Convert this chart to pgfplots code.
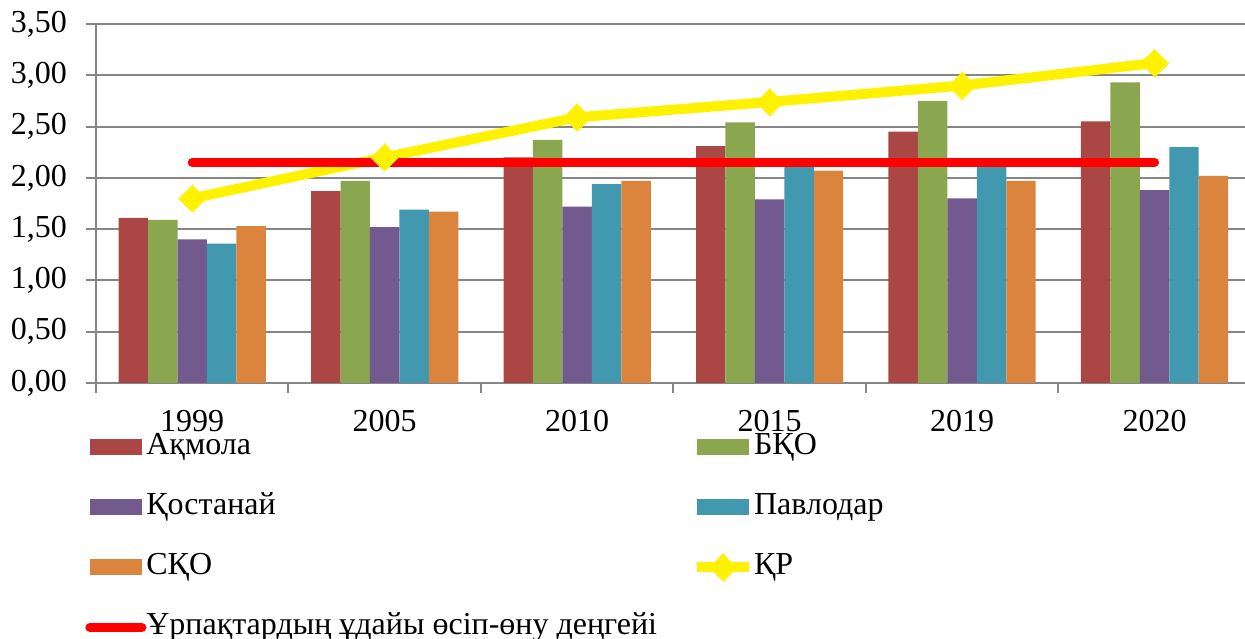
\documentclass[border=0pt]{standalone}
\usepackage{pgfplots}
\pgfplotsset{compat=1.18}
\usepackage{fontspec}
\setmainfont{Liberation Serif}
\definecolor{cA}{HTML}{AA4744}
\definecolor{cB}{HTML}{8AA64E}
\definecolor{cC}{HTML}{725A8F}
\definecolor{cD}{HTML}{4298AF}
\definecolor{cE}{HTML}{DB843D}
\definecolor{gridgray}{HTML}{868686}
\pgfplotsset{
  barleg/.style={legend image code/.code={\fill[#1] (0bp,-4bp) rectangle (26bp,4bp);}},
  lineleg/.style={legend image code/.code={\draw[mark repeat=2,mark phase=2,##1] plot coordinates {(0bp,0bp) (13bp,0bp) (26bp,0bp)};}},
}
\begin{document}
\fontsize{16bp}{19bp}\selectfont
\begin{tikzpicture}
\begin{axis}[
  at={(48bp,128bp)}, anchor=south west,
  scale only axis, width=574.5bp, height=179.5bp,
  xmin=-0.5, xmax=5.47, ymin=0, ymax=3.5,
  ytick={0,0.5,...,3.5},
  ymajorgrids, grid style={line width=1bp, color=gridgray},
  axis lines*=left, axis line style={line width=1bp, color=gridgray, -},
  tick align=outside,
  major tick length=5bp, minor tick length=5bp,
  xtick={0,...,5}, xticklabels={1999,2005,2010,2015,2019,2020},
  major x tick style={draw=none},
  minor xtick={-0.5,0.5,1.5,2.5,3.5,4.5},
  minor x tick style={color=gridgray, line width=1bp},
  major y tick style={color=gridgray, line width=1bp},
  /pgf/number format/assume math mode=true,
  yticklabel style={/pgf/number format/.cd, fixed, fixed zerofill, precision=2, use comma, /tikz/.cd, xshift=-4bp},
  xticklabel style={yshift=-3bp},
  legend columns=2,
  legend cell align=left,
  legend style={at={(-0.0096,-0.138)}, anchor=north west, draw=none, fill=none, inner sep=0pt,
    column sep=0bp, row sep=15.5bp,
    nodes={inner sep=0pt, text height=11bp, text depth=3.5bp},
    /tikz/every even column/.append style={column sep=17.5bp}},
]
\addplot[ybar, bar width=0.153, bar shift=-0.306, fill=cA, draw=none, barleg={cA}] coordinates {(0,1.61) (1,1.87) (2,2.20) (3,2.31) (4,2.45) (5,2.55)};
\addplot[ybar, bar width=0.153, bar shift=-0.153, fill=cB, draw=none, barleg={cB}] coordinates {(0,1.59) (1,1.97) (2,2.37) (3,2.54) (4,2.75) (5,2.93)};
\addplot[ybar, bar width=0.153, bar shift=0, fill=cC, draw=none, barleg={cC}] coordinates {(0,1.40) (1,1.52) (2,1.72) (3,1.79) (4,1.80) (5,1.88)};
\addplot[ybar, bar width=0.153, bar shift=0.153, fill=cD, draw=none, barleg={cD}] coordinates {(0,1.36) (1,1.69) (2,1.94) (3,2.13) (4,2.13) (5,2.30)};
\addplot[ybar, bar width=0.153, bar shift=0.306, fill=cE, draw=none, barleg={cE}] coordinates {(0,1.53) (1,1.67) (2,1.97) (3,2.07) (4,1.97) (5,2.02)};
\addplot[yellow, line width=5bp, mark=square*, mark size=4.8bp, mark options={rotate=45, line width=0pt, fill=yellow}, lineleg] coordinates {(0,1.80) (1,2.20) (2,2.59) (3,2.74) (4,2.90) (5,3.12)};
\addplot[red, line width=4.5bp, line cap=round, lineleg] coordinates {(0,2.15) (1,2.15) (2,2.15) (3,2.15) (4,2.15) (5,2.15)};
\legend{Ақмола,БҚО,Қостанай,Павлодар,СҚО,ҚР,Ұрпақтардың ұдайы өсіп-өну деңгейі}
\end{axis}
\pgfresetboundingbox
\path (0,0) rectangle (622.5bp,319.5bp);
\end{tikzpicture}
\end{document}
